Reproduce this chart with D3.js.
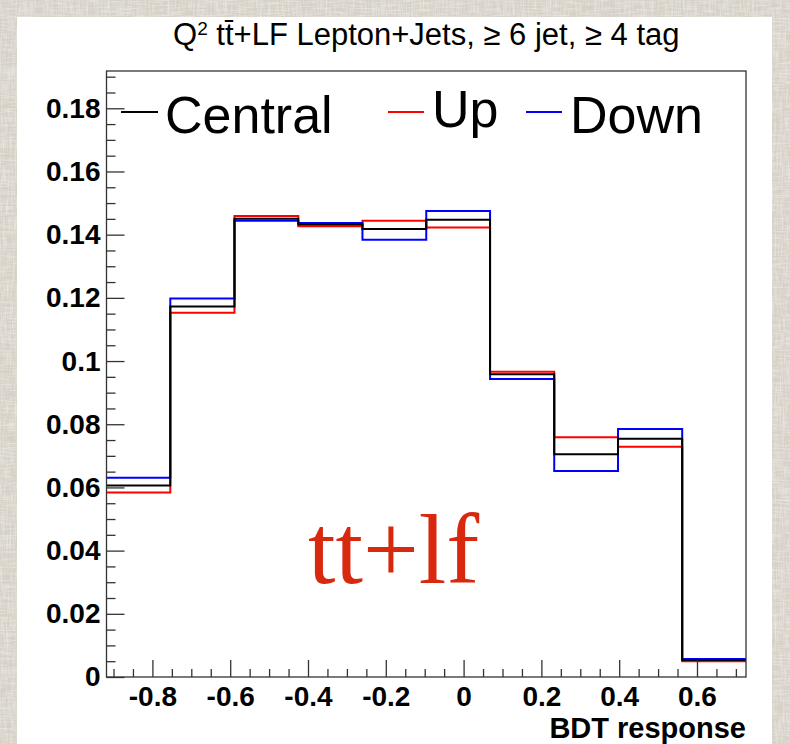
<!DOCTYPE html>
<html>
<head>
<meta charset="utf-8">
<script src="https://cdn.jsdelivr.net/npm/d3@7"></script>
<style>
  html, body { margin: 0; padding: 0; background: #e4e0d8; }
  svg { display: block; }
</style>
</head>
<body>
<svg id="chart" width="790" height="744"></svg>
<script>
// Histogram bin edges along the BDT response axis
const binEdges = [-0.918, -0.754, -0.589, -0.425, -0.260, -0.096, 0.068, 0.233, 0.397, 0.562, 0.726];

// Normalised yields per bin for each Q^2 variation
const central = [0.0606, 0.1173, 0.1450, 0.1432, 0.1418, 0.1447, 0.0958, 0.0705, 0.0754, 0.0054];
const up      = [0.0584, 0.1153, 0.1459, 0.1427, 0.1444, 0.1423, 0.0966, 0.0759, 0.0729, 0.0050];
const down    = [0.0631, 0.1198, 0.1444, 0.1437, 0.1384, 0.1475, 0.0943, 0.0652, 0.0785, 0.0057];

const seriesNames  = ["Up", "Down", "Central"];
const seriesColors = ["#ff0000", "#0000ff", "#000000"];

// Axis ticks
const xMajorTicks = [-0.8, -0.6, -0.4, -0.2, 0, 0.2, 0.4, 0.6];
const xMinorTicks = [-0.9, -0.85, -0.75, -0.7, -0.65, -0.55, -0.5, -0.45, -0.35, -0.3, -0.25,
                     -0.15, -0.1, -0.05, 0.05, 0.1, 0.15, 0.25, 0.3, 0.35, 0.45, 0.5, 0.55, 0.65, 0.7];
const xTickLabels = ["-0.8", "-0.6", "-0.4", "-0.2", "0", "0.2", "0.4", "0.6"];
const yMajorTicks = [0, 0.02, 0.04, 0.06, 0.08, 0.1, 0.12, 0.14, 0.16, 0.18];
const yMinorTicks = [0.005, 0.01, 0.015, 0.025, 0.03, 0.035, 0.045, 0.05, 0.055, 0.065, 0.07, 0.075,
                     0.085, 0.09, 0.095, 0.105, 0.11, 0.115, 0.125, 0.13, 0.135, 0.145, 0.15, 0.155,
                     0.165, 0.17, 0.175, 0.185, 0.19];
const yTickLabels = ["0", "0.02", "0.04", "0.06", "0.08", "0.1", "0.12", "0.14", "0.16", "0.18"];
const yMax = 0.1918;

const svg = d3.select("#chart");
const sans = "'Liberation Sans', Arial, Helvetica, sans-serif";

// Linen-like textured backdrop
const defs = svg.append("defs");
const f = defs.append("filter").attr("id", "linen").attr("x", 0).attr("y", 0).attr("width", 1).attr("height", 1);
f.append("feTurbulence").attr("type", "fractalNoise").attr("baseFrequency", "0.6 0.06")
  .attr("numOctaves", 2).attr("seed", 3).attr("result", "n1");
f.append("feTurbulence").attr("type", "fractalNoise").attr("baseFrequency", "0.06 0.6")
  .attr("numOctaves", 2).attr("seed", 7).attr("result", "n2");
f.append("feBlend").attr("in", "n1").attr("in2", "n2").attr("mode", "multiply").attr("result", "n");
f.append("feColorMatrix").attr("in", "n").attr("type", "matrix")
  .attr("values", "0 0 0 0 0.96  0 0 0 0 0.95  0 0 0 0 0.93  -1.4 0 0 0 0.75").attr("result", "c");
f.append("feComposite").attr("in", "c").attr("in2", "SourceGraphic").attr("operator", "over");

svg.append("rect").attr("width", 790).attr("height", 744).attr("fill", "#d6d1c7");
svg.append("rect").attr("width", 790).attr("height", 744).attr("fill", "#d6d1c7").attr("filter", "url(#linen)");

// White canvas
svg.append("rect").attr("x", 17).attr("y", 17).attr("width", 755).attr("height", 727).attr("fill", "#ffffff");

const plot = { left: 106.5, right: 746, top: 71, bottom: 677 };
const x = d3.scaleLinear().domain([binEdges[0], binEdges[binEdges.length - 1]]).range([plot.left, plot.right]);
const y = d3.scaleLinear().domain([0, yMax]).range([plot.bottom, plot.top]);

// Title
const title = svg.append("text")
  .attr("x", (plot.left + plot.right) / 2).attr("y", 45)
  .attr("text-anchor", "middle").attr("font-family", sans).attr("font-size", 31).attr("fill", "#000");
title.append("tspan").text("Q");
title.append("tspan").attr("baseline-shift", "super").attr("font-size", 19).text("2");
title.append("tspan").text(" tt\u0304+LF Lepton+Jets, \u2265 6 jet, \u2265 4 tag");

// Histograms
const step = d3.line().x(d => x(d[0])).y(d => y(d[1])).curve(d3.curveStepAfter);
const seriesValues = [up, down, central];
seriesValues.forEach((vals, i) => {
  const pts = vals.map((v, k) => [binEdges[k], v]);
  pts.push([binEdges[binEdges.length - 1], vals[vals.length - 1]]);
  svg.append("path").attr("d", step(pts)).attr("fill", "none")
    .attr("stroke", seriesColors[i]).attr("stroke-width", 2);
});

// Frame
svg.append("rect").attr("x", plot.left).attr("y", plot.top)
  .attr("width", plot.right - plot.left).attr("height", plot.bottom - plot.top)
  .attr("fill", "none").attr("stroke", "#333").attr("stroke-width", 1.3);

// Axes with inward ticks
function styleAxis(g) {
  g.select(".domain").remove();
  g.selectAll(".tick line").attr("stroke", "#333").attr("stroke-width", 1.3);
  g.selectAll("text").attr("font-family", sans).attr("font-weight", "bold")
    .attr("font-size", 28).attr("fill", "#000");
}
svg.append("g").attr("transform", `translate(${plot.left},0)`)
  .call(d3.axisLeft(y).tickValues(yMinorTicks).tickSizeInner(-9).tickSizeOuter(0).tickFormat(""))
  .call(styleAxis);
svg.append("g").attr("transform", `translate(${plot.left},0)`)
  .call(d3.axisLeft(y).tickValues(yMajorTicks).tickSizeInner(-18).tickSizeOuter(0).tickPadding(6)
    .tickFormat((d, i) => yTickLabels[i]))
  .call(styleAxis);
svg.append("g").attr("transform", `translate(0,${plot.bottom})`)
  .call(d3.axisBottom(x).tickValues(xMinorTicks).tickSizeInner(-8).tickSizeOuter(0).tickFormat(""))
  .call(styleAxis);
svg.append("g").attr("transform", `translate(0,${plot.bottom})`)
  .call(d3.axisBottom(x).tickValues(xMajorTicks).tickSizeInner(-17).tickSizeOuter(0).tickPadding(9)
    .tickFormat((d, i) => xTickLabels[i]))
  .call(styleAxis);

svg.append("text").attr("x", plot.right).attr("y", 738).attr("text-anchor", "end")
  .attr("font-family", sans).attr("font-weight", "bold").attr("font-size", 29).text("BDT response");

// Legend
const legend = [
  { name: "Central", color: "#000000", x1: 121, x2: 158, tx: 165, ty: 133 },
  { name: "Up",      color: "#ff0000", x1: 388, x2: 424, tx: 432, ty: 127 },
  { name: "Down",    color: "#0000ff", x1: 526, x2: 562, tx: 570, ty: 133 }
];
legend.forEach(l => {
  svg.append("line").attr("x1", l.x1).attr("x2", l.x2).attr("y1", 112).attr("y2", 112)
    .attr("stroke", l.color).attr("stroke-width", 2);
  svg.append("text").attr("x", l.tx).attr("y", l.ty).attr("font-family", sans)
    .attr("font-size", 52).attr("fill", "#000").text(l.name);
});

// Sample label
svg.append("text").attr("x", 308).attr("y", 583)
  .attr("font-family", "'Liberation Serif', 'Times New Roman', serif")
  .attr("font-size", 99).attr("fill", "#d8290f").text("tt+lf");
</script>
</body>
</html>
